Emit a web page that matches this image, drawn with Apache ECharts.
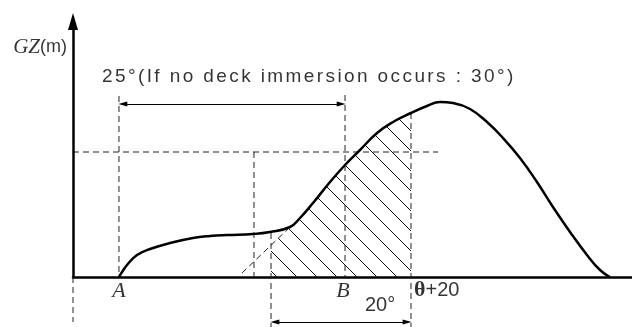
<!DOCTYPE html>
<html>
<head>
<meta charset="utf-8">
<script src="https://cdn.jsdelivr.net/npm/echarts@6/dist/echarts.min.js"></script>
<style>
  html, body { margin: 0; padding: 0; background: #fff; }
  #gz-container { width: 632px; height: 327px; }
</style>
</head>
<body>
<div id="gz-container"></div>
<script type="text/javascript">
// GZ curve, x = heel angle (deg, schematic), y = GZ (m)
var gzCurve = [
  [6.58, 0], [7.12, 0.06], [7.73, 0.12], [9.16, 0.22], [11.02, 0.28], [13.88, 0.34], [17.17, 0.39],
  [19.61, 0.41], [22.04, 0.42], [25.76, 0.43], [28.19, 0.45], [31.06, 0.50], [32.49, 0.59],
  [34.35, 0.74], [36.78, 0.95], [38.93, 1.12], [41.07, 1.27], [43.51, 1.44], [45.80, 1.55],
  [48.37, 1.64], [50.66, 1.71], [52.52, 1.75], [54.38, 1.74], [56.82, 1.68], [59.25, 1.55],
  [61.54, 1.39], [63.97, 1.19], [66.40, 0.95], [68.69, 0.70], [71.13, 0.45], [73.56, 0.22],
  [75.42, 0.07], [76.84, 0]
];

// key angles
var angA = 6.58;
var angMid = 25.9;
var angTheta = 28.34;
var angB = 38.93;
var angTheta20 = 48.37;
var gzLevel = 1.25;
var gzLevelEnd = 52.24;
var tangentLine = [[24.19, 0.04], [31.06, 0.50]];
var tangentAtTheta = 0.32;

// dashed guide segments
var dashSegments = [
  [[angA, 1.81], [angA, 0]],
  [[angB, 1.82], [angB, 0]],
  [[0, gzLevel], [gzLevelEnd, gzLevel]],
  [[angMid, gzLevel], [angMid, 0]],
  [[angTheta, 0.44], [angTheta, -0.5]],
  [[angTheta20, 1.64], [angTheta20, -0.5]],
  [[0, 0], [0, -0.45]],
  tangentLine
];

var arrowTopY = 1.73;
var arrowBottomY = -0.45;
var axisTop = 2.555;
var tipShift = 0.55;
var curveSmooth = 0.45;

var titleText = '25°(If no deck immersion occurs : 30°)';

function hatchPattern() {
  var c = document.createElement('canvas');
  c.width = 20; c.height = 20;
  var ctx = c.getContext('2d');
  ctx.strokeStyle = '#111';
  ctx.lineWidth = 1;
  ctx.beginPath();
  ctx.moveTo(-2, -2); ctx.lineTo(22, 22);
  ctx.moveTo(-2, 18); ctx.lineTo(2, 22);
  ctx.moveTo(18, -2); ctx.lineTo(22, 2);
  ctx.stroke();
  return c;
}
var hatch = { image: hatchPattern(), repeat: 'repeat' };

var hatchCurve = gzCurve.filter(function (p) {
  return p[0] >= tangentLine[1][0] && p[0] <= angTheta20;
});

var dom = document.getElementById('gz-container');
var myChart = echarts.init(dom, null, { renderer: 'canvas' });

var series = [];
series.push({
  type: 'line', data: [[angTheta, tangentAtTheta], tangentLine[1]],
  symbol: 'none', lineStyle: { width: 0 }, areaStyle: { color: hatch, opacity: 1 },
  silent: true, z: 1
});
series.push({
  type: 'line', data: hatchCurve, smooth: curveSmooth,
  symbol: 'none', lineStyle: { width: 0 }, areaStyle: { color: hatch, opacity: 1 },
  silent: true, z: 1
});
dashSegments.forEach(function (seg) {
  series.push({
    type: 'line', data: seg, symbol: 'none', clip: false, silent: true, z: 2,
    lineStyle: { color: '#222', width: 1, type: [6, 4] }
  });
});
series.push({
  type: 'line', data: gzCurve, smooth: curveSmooth, symbol: 'none', silent: true, z: 5,
  lineStyle: { color: '#000', width: 2.5 },
  markLine: {
    silent: true, animation: false,
    label: { show: false },
    lineStyle: { color: '#000', type: 'solid', width: 1 },
    symbol: ['triangle', 'triangle'],
    symbolSize: [5, 9],
    data: [
      [{ coord: [0, 0], symbol: 'none', lineStyle: { width: 2.5 } },
       { coord: [0, axisTop], symbol: 'triangle', symbolSize: [10, 17] }],
      [{ coord: [angA + tipShift, arrowTopY] }, { coord: [angB - tipShift, arrowTopY] }],
      [{ coord: [angTheta + tipShift, arrowBottomY] }, { coord: [angTheta20 - tipShift, arrowBottomY] }]
    ]
  }
});

var serifItalic = { fontFamily: 'Liberation Serif', fontStyle: 'italic', fontSize: 22, color: '#000' };
series.push({
  type: 'scatter', symbolSize: 0, clip: false, silent: true, z: 6,
  label: { show: true, color: '#000' },
  data: [
    { value: [0, 2.30], label: { position: 'left', distance: 6, formatter: '{g|GZ}{m|(m)}',
      rich: { g: { fontFamily: 'Liberation Serif', fontStyle: 'italic', fontSize: 21 },
              m: { fontFamily: 'Liberation Sans', fontSize: 18 } } } },
    { value: [4.15, 2.0], label: { position: 'right', distance: 0,
      formatter: titleText.split('').map(function (ch) { return '{t|' + ch + '}'; }).join(''),
      rich: { t: { fontFamily: 'Liberation Sans', fontSize: 19, padding: [0, 2.4, 0, 0] } } } },
    { value: [angA, 0], label: { position: 'bottom', distance: 3, formatter: '{i|A}', rich: { i: serifItalic } } },
    { value: [38.64, 0], label: { position: 'bottom', distance: 3, formatter: '{i|B}', rich: { i: serifItalic } } },
    { value: [angTheta20, -0.13], label: { position: 'right', distance: 3, formatter: '{b|θ}{s|+20}',
      rich: { b: { fontFamily: 'Liberation Serif', fontWeight: 'bold', fontSize: 22 },
              s: { fontFamily: 'Liberation Sans', fontSize: 20 } } } },
    { value: [43.94, -0.28], label: { position: 'inside', formatter: '{s|20°}',
      rich: { s: { fontFamily: 'Liberation Sans', fontSize: 20 } } } }
  ]
});

var option = {
  animation: false,
  backgroundColor: '#fff',
  grid: { left: 73, right: 0, top: 14, bottom: 0 },
  xAxis: {
    type: 'value', min: 0, max: 80,
    axisLine: { show: true, onZero: true, lineStyle: { color: '#000', width: 2.5 } },
    axisTick: { show: false }, axisLabel: { show: false }, splitLine: { show: false }
  },
  yAxis: {
    type: 'value', min: -0.5, max: 2.63,
    axisLine: { show: false }, axisTick: { show: false },
    axisLabel: { show: false }, splitLine: { show: false }
  },
  series: series
};
myChart.setOption(option);
</script>
</body>
</html>
